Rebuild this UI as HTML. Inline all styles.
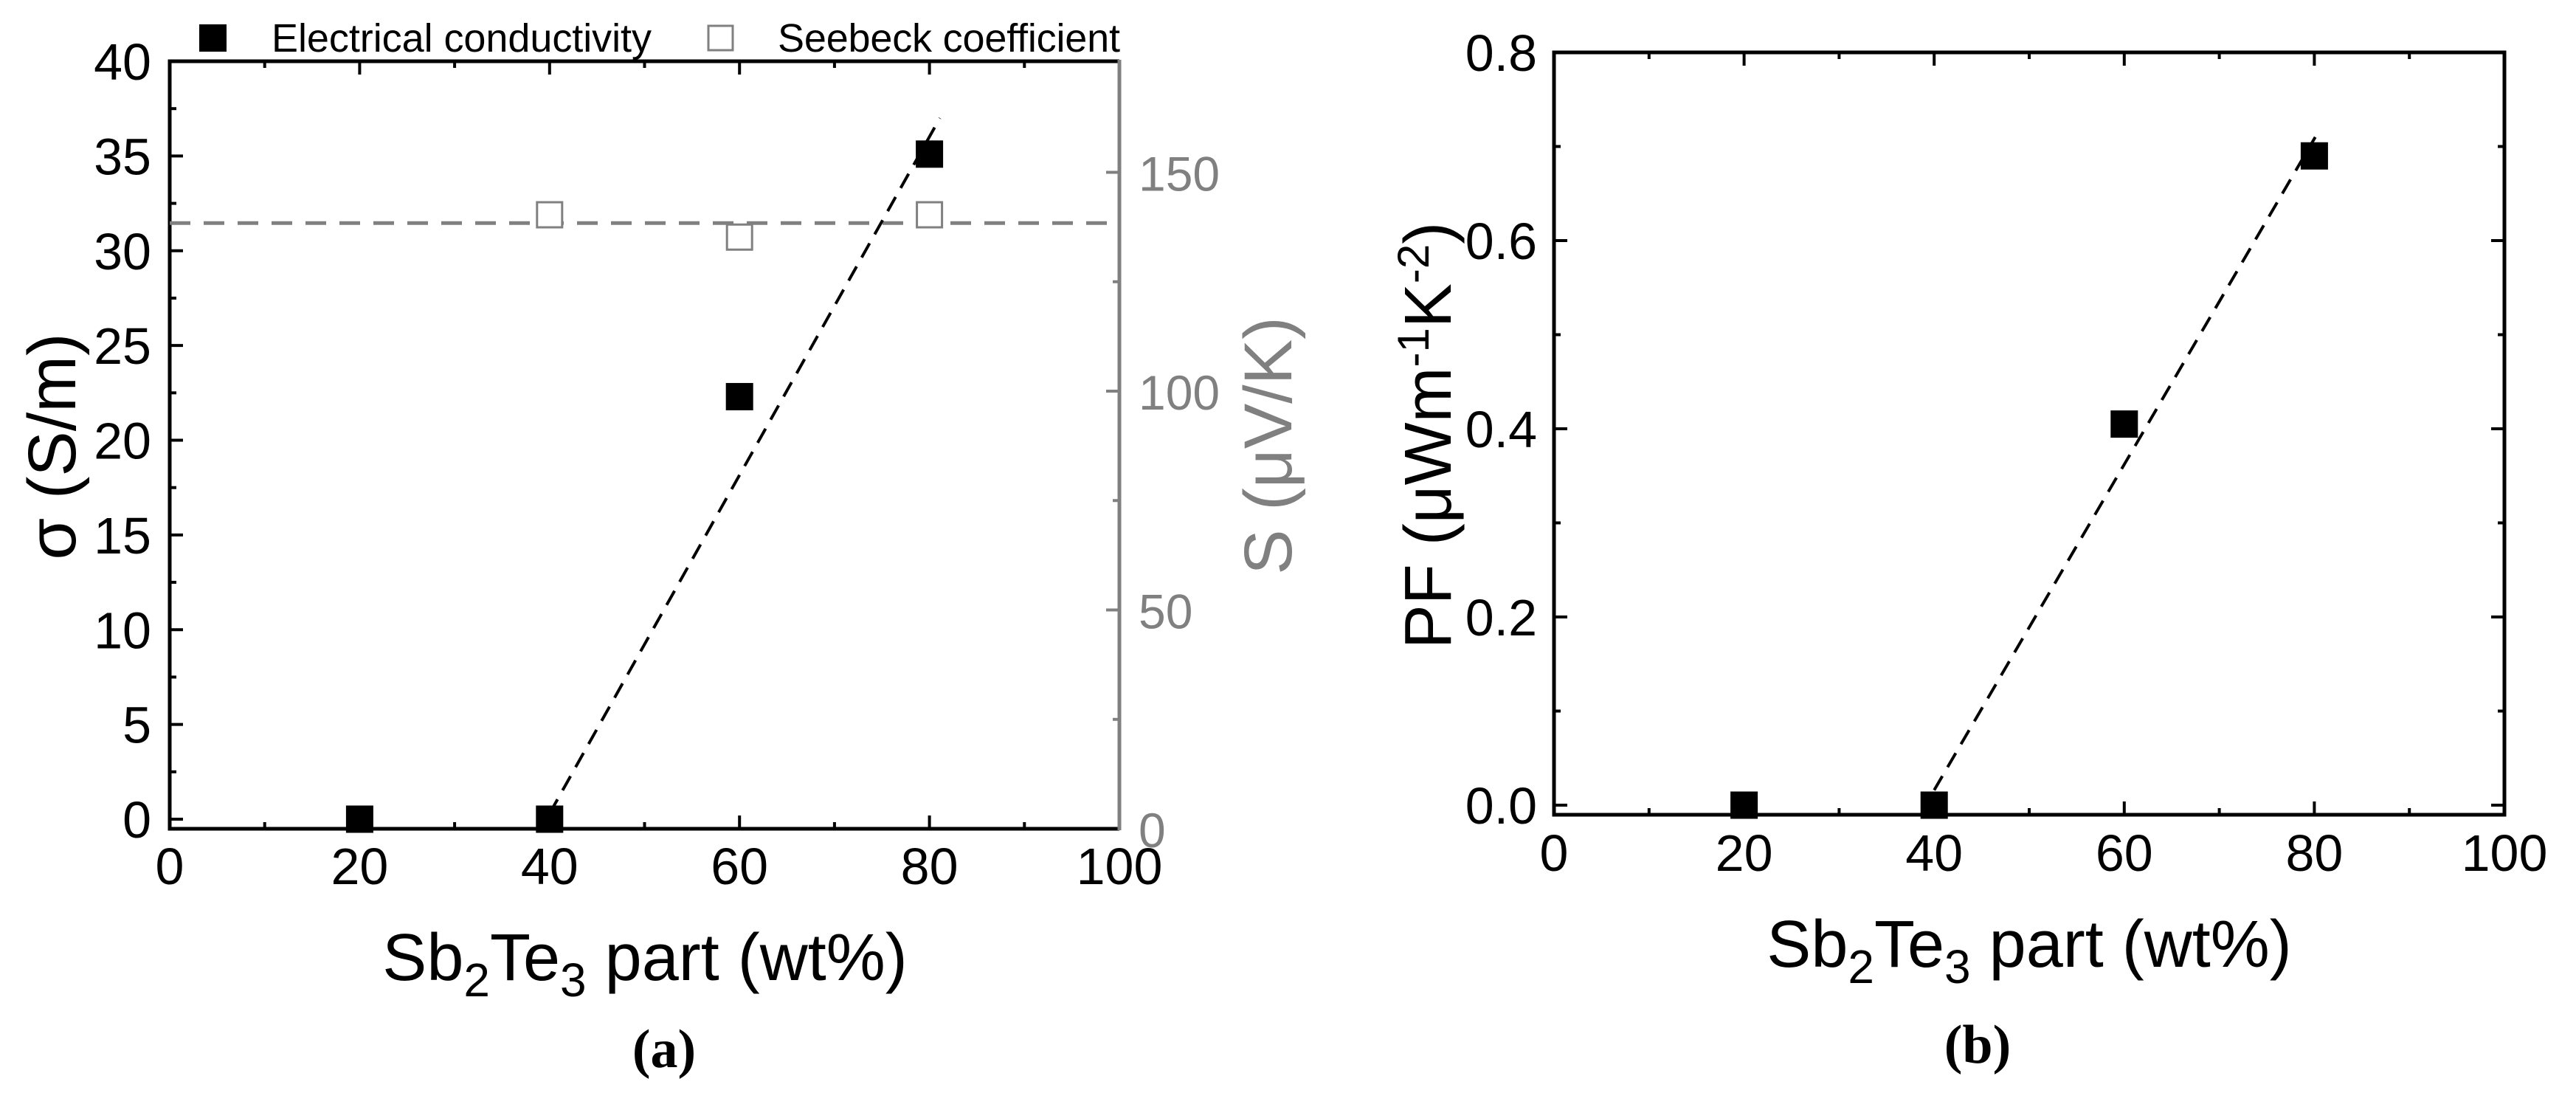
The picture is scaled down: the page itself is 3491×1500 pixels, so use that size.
<!DOCTYPE html>
<html><head><meta charset="utf-8"><style>
html,body{margin:0;padding:0;background:#fff;}
svg{display:block;font-family:"Liberation Sans",sans-serif;}
</style></head><body>
<svg id="fig" width="3491" height="1500" viewBox="0 0 3491 1500" xmlns="http://www.w3.org/2000/svg">
<g id="pa"></g>
<g id="pb"></g>
</svg>
<script>
// Panel (a) data
const xCatsA = [20, 40, 60, 80];
const sigmaVals = [0.0, 0.0, 22.3, 35.1];
const seebeckX = [40, 60, 80];
const seebeckVals = [140.3, 135.2, 140.3];
const seebeckMean = 138.4;
const sigmaFitX = [40, 81.1];
const sigmaFitY = [0.3, 37.0];
const sigmaTicks = [0, 5, 10, 15, 20, 25, 30, 35, 40];
const seebeckTicks = [0, 50, 100, 150];
const xTicks = [0, 20, 40, 60, 80, 100];
// Panel (b) data
const xCatsB = [20, 40, 60, 80];
const pfVals = [0.0, 0.0, 0.405, 0.690];
const pfFitX = [40, 80.1];
const pfFitY = [0.016, 0.71];
const pfTicks = [0.0, 0.2, 0.4, 0.6, 0.8];

const NS = "http://www.w3.org/2000/svg";
function mk(parent, tag, attrs, text){
  const e = document.createElementNS(NS, tag);
  for (const k in attrs) e.setAttribute(k, attrs[k]);
  if (text !== undefined) e.textContent = text;
  parent.appendChild(e);
  return e;
}

// ---------- Panel A ----------
const A = document.getElementById('pa');
const aL = 230, aR = 1517, aT = 83, aB = 1123;
const ax = v => aL + (aR - aL) * v / 100;
const ay = v => 1110 - (1110 - aT) * v / 40;
const ayS = v => aB - 5.93 * v;

for (let v = 10; v < 100; v += 10) {
  const len = (v % 20 === 0) ? 18 : 9;
  const t1 = mk(A, 'line', {x1: ax(v), x2: ax(v), y1: aB, y2: aB - len, stroke: '#000', 'stroke-width': 4});
  
  
  const t2 = mk(A, 'line', {x1: ax(v), x2: ax(v), y1: aT, y2: aT + len, stroke: '#000', 'stroke-width': 4});
  
  
}
for (let v = 0; v <= 37.5; v += 2.5) {
  const len = (v % 5 === 0) ? 18 : 9;
  const t = mk(A, 'line', {x1: aL, x2: aL + len, y1: ay(v), y2: ay(v), stroke: '#000', 'stroke-width': 4});
  
  
}
for (let v = 0; v <= 150; v += 25) {
  const len = (v % 50 === 0) ? 18 : 9;
  const t = mk(A, 'line', {x1: aR, x2: aR - len, y1: ayS(v), y2: ayS(v), stroke: '#808080', 'stroke-width': 4});
  
  
}
let e = mk(A, 'path', {d: `M${aR},${aT} L${aL},${aT} L${aL},${aB} L${aR},${aB}`, fill: 'none', stroke: '#000', 'stroke-width': 5});


e = mk(A, 'line', {x1: aR, x2: aR, y1: aT - 2, y2: aB + 2, stroke: '#808080', 'stroke-width': 5});



sigmaTicks.forEach(v => {
  const t = mk(A, 'text', {x: 205, y: ay(v) + 25, 'text-anchor': 'end', 'font-size': 70, fill: '#000'}, String(v));
  
  
});
xTicks.forEach(v => {
  const t = mk(A, 'text', {x: ax(v), y: 1198, 'text-anchor': 'middle', 'font-size': 70, fill: '#000'}, String(v));
  
  
});
seebeckTicks.forEach(v => {
  const t = mk(A, 'text', {x: 1543, y: ayS(v) + 25, 'text-anchor': 'start', 'font-size': 66, fill: '#808080'}, String(v));
  
  
});

e = mk(A, 'line', {x1: aL, x2: aR, y1: ayS(seebeckMean), y2: ayS(seebeckMean), stroke: '#808080', 'stroke-width': 5, 'stroke-dasharray': '28 18'});


e = mk(A, 'line', {x1: ax(sigmaFitX[0]), y1: ay(sigmaFitY[0]), x2: ax(sigmaFitX[1]), y2: ay(sigmaFitY[1]), stroke: '#000', 'stroke-width': 4, 'stroke-dasharray': '22 14'});



seebeckX.forEach((x, i) => {
  const r = mk(A, 'rect', {x: ax(x) - 17, y: ayS(seebeckVals[i]) - 17, width: 34, height: 34, fill: '#fff', stroke: '#808080', 'stroke-width': 3});
  
  
});
xCatsA.forEach((x, i) => {
  const r = mk(A, 'rect', {x: ax(x) - 18.5, y: ay(sigmaVals[i]) - 18.5, width: 37, height: 37, fill: '#000'});
  
  
});

e = mk(A, 'rect', {x: 270, y: 33, width: 37, height: 37, fill: '#000'});


e = mk(A, 'text', {x: 368, y: 70, 'font-size': 54, fill: '#000', textLength: 515}, 'Electrical conductivity');


e = mk(A, 'rect', {x: 960, y: 35, width: 33, height: 33, fill: '#fff', stroke: '#808080', 'stroke-width': 3});


e = mk(A, 'text', {x: 1054, y: 70, 'font-size': 54, fill: '#000', textLength: 464}, 'Seebeck coefficient');



e = mk(A, 'text', {x: 874, y: 1328, 'text-anchor': 'middle', 'font-size': 90, fill: '#000'});
e.innerHTML = 'Sb<tspan dy="22" font-size="64">2</tspan><tspan dy="-22">Te</tspan><tspan dy="22" font-size="64">3</tspan><tspan dy="-22"> part (wt%)</tspan>';


e = mk(A, 'text', {x: 0, y: 0, 'text-anchor': 'middle', 'font-size': 92, fill: '#000', transform: 'translate(102,605) rotate(-90)'}, 'σ (S/m)');


e = mk(A, 'text', {x: 0, y: 0, 'text-anchor': 'middle', 'font-size': 92, fill: '#808080', transform: 'translate(1750,604) rotate(-90)'}, 'S (μV/K)');


e = mk(A, 'text', {x: 900, y: 1446, 'text-anchor': 'middle', 'font-size': 74, 'font-family': '"Liberation Serif", serif', 'font-weight': 'bold', fill: '#000'}, '(a)');



// ---------- Panel B ----------
const B = document.getElementById('pb');
const bL = 2106, bR = 3394, bT = 71, bB = 1104;
const bx = v => bL + (bR - bL) * v / 100;
const by = v => 1091 - 1275 * v;

for (let v = 10; v < 100; v += 10) {
  const len = (v % 20 === 0) ? 18 : 9;
  const t1 = mk(B, 'line', {x1: bx(v), x2: bx(v), y1: bB, y2: bB - len, stroke: '#000', 'stroke-width': 4});
  
  
  const t2 = mk(B, 'line', {x1: bx(v), x2: bx(v), y1: bT, y2: bT + len, stroke: '#000', 'stroke-width': 4});
  
  
}
for (let k = 0; k <= 7; k++) {
  const v = k / 10;
  const len = (k % 2 === 0) ? 18 : 9;
  const t1 = mk(B, 'line', {x1: bL, x2: bL + len, y1: by(v), y2: by(v), stroke: '#000', 'stroke-width': 4});
  
  
  const t2 = mk(B, 'line', {x1: bR, x2: bR - len, y1: by(v), y2: by(v), stroke: '#000', 'stroke-width': 4});
  
  
}
e = mk(B, 'rect', {x: bL, y: bT, width: bR - bL, height: bB - bT, fill: 'none', stroke: '#000', 'stroke-width': 5});



pfTicks.forEach(v => {
  const t = mk(B, 'text', {x: 2083, y: by(v) + 25, 'text-anchor': 'end', 'font-size': 70, fill: '#000'}, v.toFixed(1));
  
  
});
xTicks.forEach(v => {
  const t = mk(B, 'text', {x: bx(v), y: 1180, 'text-anchor': 'middle', 'font-size': 70, fill: '#000'}, String(v));
  
  
});

e = mk(B, 'line', {x1: bx(pfFitX[0]), y1: by(pfFitY[0]), x2: bx(pfFitX[1]), y2: by(pfFitY[1]), stroke: '#000', 'stroke-width': 4, 'stroke-dasharray': '22 14'});


xCatsB.forEach((x, i) => {
  const r = mk(B, 'rect', {x: bx(x) - 18.5, y: by(pfVals[i]) - 18.5, width: 37, height: 37, fill: '#000'});
  
  
});

e = mk(B, 'text', {x: 2750, y: 1310, 'text-anchor': 'middle', 'font-size': 90, fill: '#000'});
e.innerHTML = 'Sb<tspan dy="22" font-size="64">2</tspan><tspan dy="-22">Te</tspan><tspan dy="22" font-size="64">3</tspan><tspan dy="-22"> part (wt%)</tspan>';


e = mk(B, 'text', {x: 0, y: 0, 'text-anchor': 'middle', 'font-size': 90, fill: '#000', transform: 'translate(1966,590) rotate(-90)'});
e.innerHTML = 'PF (μWm<tspan dy="-30" font-size="60">-1</tspan><tspan dy="30">K</tspan><tspan dy="-30" font-size="60">-2</tspan><tspan dy="30">)</tspan>';


e = mk(B, 'text', {x: 2680, y: 1440, 'text-anchor': 'middle', 'font-size': 74, 'font-family': '"Liberation Serif", serif', 'font-weight': 'bold', fill: '#000'}, '(b)');


</script>
</body></html>
